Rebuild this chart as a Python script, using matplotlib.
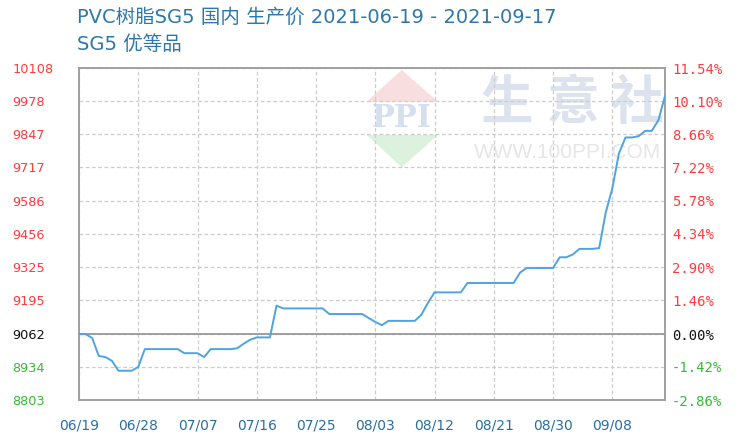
import matplotlib
matplotlib.use("Agg")
import matplotlib.pyplot as plt
from matplotlib.patches import Polygon
import numpy as np

# ---- data ----
dates = ["06/19", "06/28", "07/07", "07/16", "07/25", "08/03",
         "08/12", "08/21", "08/30", "09/08"]
prices = [9062, 9062, 9047, 8976, 8972, 8957, 8918, 8918, 8918, 8933,
          9003, 9003, 9003, 9003, 9003, 9003, 8987, 8987, 8987, 8972,
          9003, 9003, 9003, 9003, 9006, 9024, 9040, 9049, 9049, 9049,
          9174, 9163, 9163, 9163, 9163, 9163, 9163, 9163, 9141, 9141,
          9141, 9141, 9141, 9141, 9125, 9110, 9097, 9114, 9114, 9114,
          9114, 9114, 9138, 9185, 9226, 9226, 9226, 9226, 9226, 9263,
          9263, 9263, 9263, 9263, 9263, 9263, 9263, 9304, 9322, 9322,
          9322, 9322, 9322, 9364, 9364, 9375, 9397, 9397, 9397, 9400,
          9540, 9635, 9772, 9835, 9835, 9840, 9861, 9861, 9903, 9998]
left_ticks = [8803, 8934, 9062, 9195, 9325, 9456, 9586, 9717, 9847, 9978, 10108]
right_labels = ["-2.86%", "-1.42%", "0.00%", "1.46%", "2.90%", "4.34%",
                "5.78%", "7.22%", "8.66%", "10.10%", "11.54%"]
base_price = 9062
title1 = "PVC树脂SG5 国内 生产价 2021-06-19 - 2021-09-17"
title2 = "SG5 优等品"

W, H = 740, 442
fig = plt.figure(figsize=(W / 100, H / 100), dpi=100)
fig.patch.set_facecolor("white")

def fx(x):
    return x / W

def fy(y):
    return 1 - y / H

ax = fig.add_axes([fx(79), fy(400), fx(665) - fx(79), fy(68) - fy(400)])
ax.set_facecolor("white")
ax.set_zorder(2)
ax.patch.set_alpha(0)

# watermark (figure coords, drawn under axes)
red_tri = Polygon([[fx(401.7), fy(70)], [fx(366.7), fy(101.7)], [fx(438), fy(101.7)]],
                  closed=True, transform=fig.transFigure, facecolor="#f8dede",
                  edgecolor="none", zorder=0)
green_tri = Polygon([[fx(366.7), fy(135)], [fx(438), fy(135)], [fx(401.7), fy(167.3)]],
                    closed=True, transform=fig.transFigure, facecolor="#dcf1de",
                    edgecolor="none", zorder=0)
fig.patches.extend([red_tri, green_tri])
fig.text(fx(402), fy(119), "PPI", ha="center", va="center", fontsize=22,
         family="DejaVu Serif", fontweight="bold", color="#d6dfee", zorder=0)
for ch, cx in zip("生意社", [507, 573, 637]):
    fig.text(fx(cx), fy(103), ch, ha="center", va="center", fontsize=38,
             family=["Noto Sans CJK SC"], fontweight="bold", color="#dde3ee", zorder=0)
fig.text(fx(568), fy(152), "WWW.100PPI.COM", ha="center", va="center", fontsize=15,
         family="Liberation Sans", color="#e6e6e6", zorder=0)

x = np.arange(len(prices))
ax.set_xlim(0, len(prices) - 1)
ax.set_ylim(left_ticks[0], left_ticks[-1])

ax.set_xticks(np.arange(0, len(dates) * 9, 9))
ax.set_xticklabels(dates)
ax.set_yticks(left_ticks)
ax.set_yticklabels([str(v) for v in left_ticks])

ax.grid(True, color="#cccccc", linestyle=(0, (3, 2)), linewidth=0.9)
ax.axhline(base_price, color="#999999", linewidth=1.3, zorder=3)
ax.plot(x, prices, color="#4ea3e0", linewidth=1.4, zorder=4)

for s in ax.spines.values():
    s.set_color("#a0a0a0")
    s.set_linewidth(1.4)

ax.tick_params(axis="both", length=0)
ax.tick_params(axis="x", pad=13, labelsize=10, labelcolor="#2b6e9e")
ax.tick_params(axis="y", pad=48)
for lab, v in zip(ax.get_yticklabels(), left_ticks):
    lab.set_horizontalalignment("left")
    lab.set_fontsize(9.3)
    if v > base_price:
        lab.set_color("#ff3b3b")
    elif v < base_price:
        lab.set_color("#33bb33")
    else:
        lab.set_color("#111111")

ax2 = ax.twinx()
ax2.set_ylim(ax.get_ylim())
ax2.set_yticks(left_ticks)
ax2.set_yticklabels(right_labels, family="DejaVu Sans Mono", fontsize=10)
ax2.tick_params(axis="y", length=0, pad=5)
for s in ax2.spines.values():
    s.set_visible(False)
for lab, v in zip(ax2.get_yticklabels(), left_ticks):
    if v > base_price:
        lab.set_color("#ff3b3b")
    elif v < base_price:
        lab.set_color("#33bb33")
    else:
        lab.set_color("#111111")

fig.text(fx(77), fy(17), title1, ha="left", va="center", fontsize=14,
         family=["DejaVu Sans", "Noto Sans CJK SC"], color="#2c78ad")
fig.text(fx(77), fy(45), title2, ha="left", va="center", fontsize=14,
         family=["DejaVu Sans", "Noto Sans CJK SC"], color="#2c78ad")

fig.savefig("out.png", dpi=100, facecolor="white")
